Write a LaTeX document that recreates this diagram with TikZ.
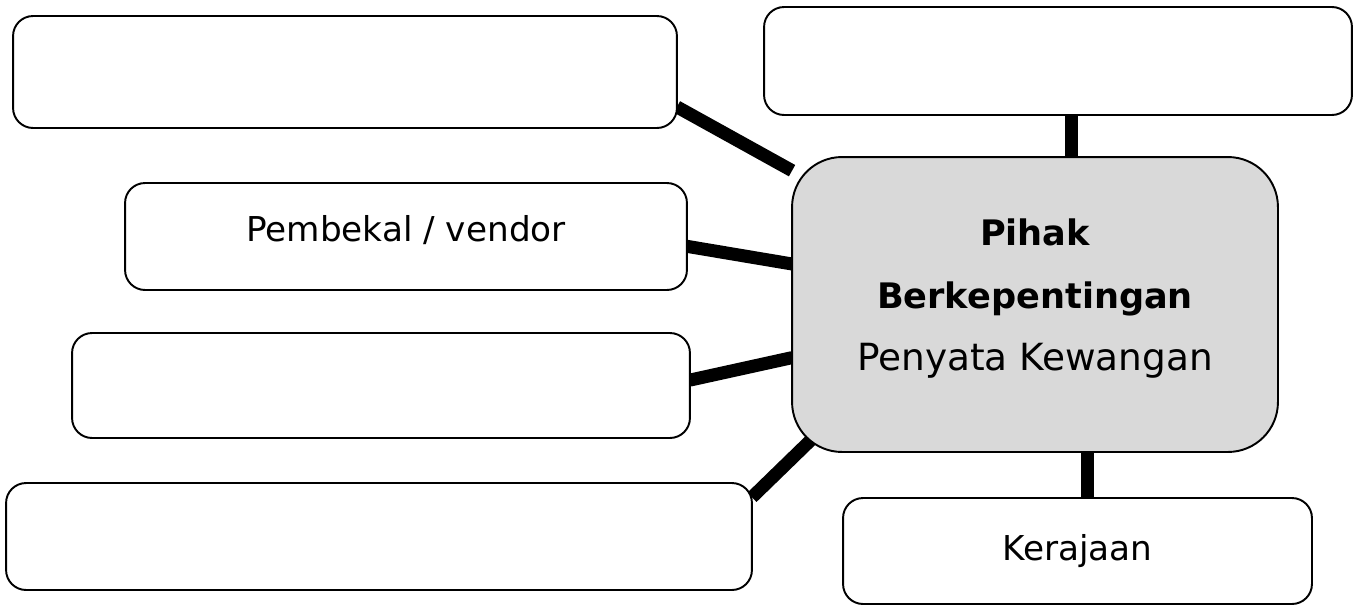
\documentclass[tikz,border=0pt]{standalone}
\usepackage{fontspec}
\setmainfont{DejaVu Sans}
\usetikzlibrary{calc,backgrounds}
\definecolor{pk-grey}{HTML}{D9D9D9}

\begin{document}
\begin{tikzpicture}[x=0.02cm, y=-0.02cm, line width=1.1pt,
  box/.style={draw, fill=white, rounded corners=0.4cm, outer sep=0pt, inner sep=0pt, font=\fontsize{19.5}{23}\selectfont},
  hub/.style={draw, fill=pk-grey, rounded corners=1cm, outer sep=0pt, align=center, font=\fontsize{21.3}{35.7}\selectfont},
  link/.style={line width=7.4pt}]
\useasboundingbox (0,0) rectangle (1362,606);
\node[box, minimum width=13.28cm, minimum height=2.24cm] (topleft) at (345,72) {};
\node[box, minimum width=11.76cm, minimum height=2.16cm] (topright) at (1058,61) {};
\node[box, minimum width=11.24cm, minimum height=2.14cm, text depth=9pt] (vendor) at (406,236.5) {Pembekal / vendor};
\node[box, minimum width=12.36cm, minimum height=2.10cm] (midleft) at (381,385.5) {};
\node[box, minimum width=14.92cm, minimum height=2.14cm] (botleft) at (379,536.5) {};
\node[box, minimum width=9.38cm, minimum height=2.12cm] (gov) at (1077.5,551) {Kerajaan};
\node[hub, minimum width=9.72cm, minimum height=5.9cm, text depth=11pt] (hub) at (1035,304.5)
  {{\fontsize{20}{35.7}\selectfont\bfseries Pihak}\\{\fontsize{20}{35.7}\selectfont\bfseries Berkepentingan}\\Penyata Kewangan};
% connectors behind the boxes
\begin{scope}[on background layer]
\draw[link] (topleft.-6) -- (hub);
\draw[link] (vendor.-2) -- (hub);
\draw[link] (midleft.1) -- (hub);
\draw[link] (botleft.6) -- ($(hub.south west)+(58,-50)$);
\draw[link] ([xshift=0.26cm]topright.south) -- ([xshift=0.26cm]topright.south |- hub.north);
\draw[link] ([xshift=0.19cm]gov.north) -- ([xshift=0.19cm]gov.north |- hub.south);
\end{scope}
\end{tikzpicture}
\end{document}
